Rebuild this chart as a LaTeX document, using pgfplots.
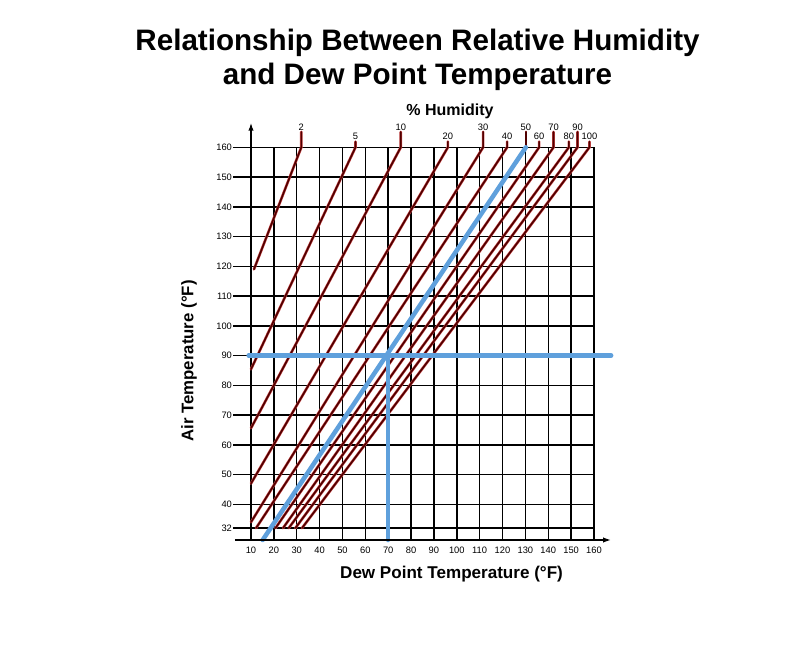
\documentclass[border=0pt]{standalone}
\usepackage{fontspec}
\setmainfont{Liberation Sans}
\usepackage{pgfplots}
\pgfplotsset{compat=1.18}
\usetikzlibrary{calc,arrows.meta}
\definecolor{rcore}{RGB}{80,0,0}
\definecolor{rhalo}{RGB}{200,70,70}
\definecolor{hblue}{RGB}{95,160,220}
\tikzset{rl/.style={draw=rcore, line width=1.2pt, line cap=round, line join=round, preaction={draw=rhalo, line width=2.0pt}},
  bl/.style={draw=hblue, line width=3.4pt, line cap=round},
  hl/.style={anchor=south, inner sep=1pt, font=\fontsize{7}{8}\selectfont}}
\begin{document}
\begin{tikzpicture}
\begin{axis}[
  scale only axis, width=257.25pt, height=294.5pt,
  xmin=10, xmax=160, ymin=28, ymax=160,
  xtick={10,20,...,160}, ytick={32,40,50,...,160},
  grid=major, major grid style={black, line width=1.1pt},
  axis line style={black, line width=1.1pt},
  xtick style={draw=none},
  ytick pos=left, ytick align=outside,
  ytick style={black, line width=1.1pt}, major tick length=13.5pt,
  clip=false,
  /pgf/number format/assume math mode=true,
  ticklabel style={font=\fontsize{7}{8}\selectfont},
  yticklabel style={inner sep=0.6pt},
  xticklabel style={yshift=-2pt},
]
\coordinate (O) at (axis cs:10,28);
% relative humidity lines (dew point, air temperature)
\addplot[rl] coordinates {(11.3,119) (32,160) (32,165.2)};
\addplot[rl] coordinates {(10,85.4) (55.7,160) (55.7,161.9)};
\addplot[rl] coordinates {(10,65.6) (75.5,160) (75.5,165.2)};
\addplot[rl] coordinates {(10,47.0) (96.1,160) (96.1,161.9)};
\addplot[rl] coordinates {(10,34.0) (111.5,160) (111.5,165.2)};
\addplot[rl] coordinates {(12.2,32) (122,160) (122,161.9)};
\addplot[rl] coordinates {(130.2,160) (130.2,165.2)};
\addplot[rl] coordinates {(20.7,32) (136,160) (136,161.9)};
\addplot[rl] coordinates {(24.0,32) (142.3,160) (142.3,165.2)};
\addplot[rl] coordinates {(26.5,32) (149,160) (149,161.9)};
\addplot[rl] coordinates {(29.4,32) (152.8,160) (152.8,165.2)};
\addplot[rl] coordinates {(32.3,32) (158,160) (158,161.9)};
% highlighted 50% line and reading lines
\addplot[bl] coordinates {(15.1,28) (130.2,160)};
\addplot[bl] coordinates {(9,90) (167.5,90)};
\addplot[bl] coordinates {(70,90) (70,28)};
% axis arrows
\draw[line width=1.1pt, -{Latex[length=6pt,width=4pt]}] (axis cs:10,160) -- (axis cs:10,168.3);
\draw[line width=1.1pt, -{Latex[length=6pt,width=4pt]}] (axis cs:3,28) -- (axis cs:167.5,28);
% humidity labels
\node[hl] at (axis cs:32,165.2) {2};
\node[hl] at (axis cs:55.7,161.9) {5};
\node[hl] at (axis cs:75.5,165.2) {10};
\node[hl] at (axis cs:96.1,161.9) {20};
\node[hl] at (axis cs:111.5,165.2) {30};
\node[hl] at (axis cs:122,161.9) {40};
\node[hl] at (axis cs:130.2,165.2) {50};
\node[hl] at (axis cs:136,161.9) {60};
\node[hl] at (axis cs:142.3,165.2) {70};
\node[hl] at (axis cs:149,161.9) {80};
\node[hl] at (axis cs:152.8,165.2) {90};
\node[hl] at (axis cs:158,161.9) {100};
\end{axis}
\node[font=\fontsize{22.2}{25.5}\selectfont\bfseries, align=center] at ($(O)+(124.9pt,360pt)$) {Relationship Between Relative Humidity\\and Dew Point Temperature};
\node[font=\fontsize{12}{14}\selectfont\bfseries] at ($(O)+(149.25pt,321.75pt)$) {\% Humidity};
\node[font=\fontsize{12.8}{15}\selectfont\bfseries] at ($(O)+(150.4pt,-25.5pt)$) {Dew Point Temperature (°F)};
\node[font=\fontsize{12.6}{15}\selectfont\bfseries, rotate=90] at ($(O)+(-46.5pt,134.25pt)$) {Air Temperature (°F)};
\path[use as bounding box] ($(O)+(-188.25pt,-87.75pt)$) rectangle ($(O)+(411.75pt,405pt)$);
\end{tikzpicture}
\end{document}
